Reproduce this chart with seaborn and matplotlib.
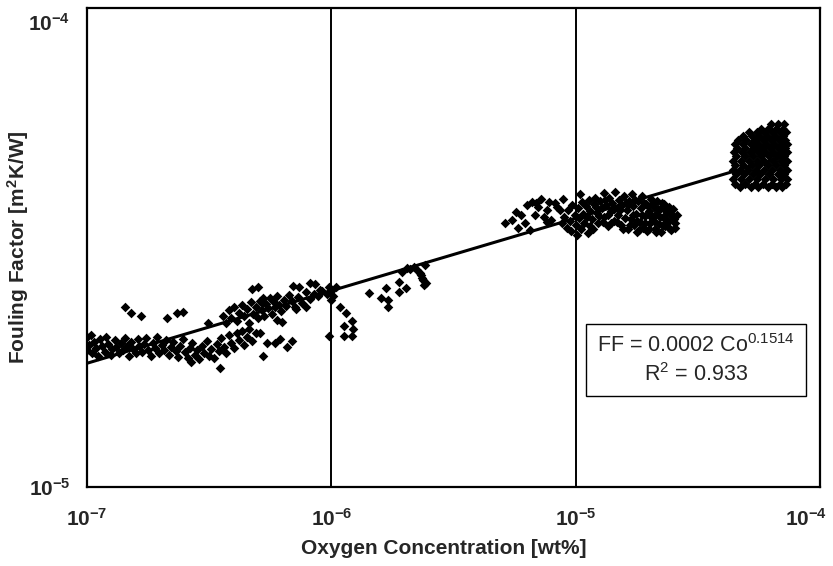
import numpy as np
import pandas as pd
import matplotlib
matplotlib.use("Agg")
import matplotlib.pyplot as plt
import matplotlib.transforms as mtransforms
from matplotlib.ticker import NullLocator
import seaborn as sns

# ---- data: (oxygen conc., fouling factor) ----
# low range: Co in units of 1e-7 wt%, FF in units of 1e-5 m2K/W
low_pts = [
    (1.00, 2.06), (1.00, 1.93), (1.02, 1.98), (1.04, 2.08), (1.05, 1.90), (1.07, 2.01),
    (1.09, 1.95), (1.11, 1.88), (1.13, 2.04), (1.15, 1.97), (1.18, 1.91), (1.20, 2.06),
    (1.22, 1.99), (1.25, 1.89), (1.27, 1.94), (1.30, 2.03), (1.32, 1.96), (1.35, 1.90),
    (1.38, 2.00), (1.40, 1.93), (1.43, 2.05), (1.46, 1.97), (1.49, 1.88), (1.52, 2.01),
    (1.55, 1.94), (1.58, 1.90), (1.61, 2.04), (1.64, 1.97), (1.68, 1.91), (1.71, 1.99),
    (1.75, 2.05), (1.78, 1.93), (1.82, 1.88), (1.86, 2.00), (1.90, 1.95), (1.94, 2.06),
    (1.98, 1.90), (2.02, 1.98), (2.07, 1.93), (2.11, 2.03), (2.16, 1.89), (2.21, 1.96),
    (2.26, 2.01), (2.31, 1.92), (2.36, 1.87), (2.41, 1.97), (2.47, 2.04), (2.52, 1.91),
    (2.58, 1.86), (2.64, 1.95), (2.70, 2.00), (2.76, 1.89), (2.82, 1.93), (2.88, 1.85),
    (2.95, 1.97), (3.02, 1.90), (3.09, 2.02), (3.16, 1.88), (3.23, 1.94), (3.31, 1.86),
    (3.39, 1.99), (3.47, 1.92), (3.55, 2.05), (3.63, 1.96), (3.72, 1.90), (3.81, 2.08),
    (3.90, 2.00), (4.00, 1.95), (4.10, 2.10), (4.20, 2.03), (4.30, 2.12), (4.40, 1.98),
    (4.50, 2.06), (4.62, 2.14), (4.75, 2.02), (4.90, 2.10),
    # stray points
    (1.43, 2.37), (1.51, 2.31), (1.66, 2.27), (2.12, 2.25), (2.33, 2.31), (2.47, 2.32),
    (3.13, 2.20), (2.66, 1.82), (3.50, 1.77), (5.25, 1.88),
    # rising part
    (3.6, 2.28), (3.7, 2.20), (3.8, 2.34), (3.9, 2.25), (4.0, 2.38), (4.1, 2.22),
    (4.2, 2.31), (4.3, 2.40), (4.4, 2.27), (4.5, 2.35), (4.6, 2.20), (4.7, 2.43),
    (4.8, 2.30), (4.9, 2.38), (5.0, 2.25), (5.1, 2.45), (5.2, 2.34), (5.3, 2.28),
    (5.4, 2.41), (5.5, 2.36), (5.6, 2.48), (5.7, 2.30), (5.8, 2.43), (5.9, 2.37),
    (6.0, 2.51), (6.1, 2.40), (6.2, 2.33), (6.4, 2.46), (6.5, 2.39), (6.7, 2.52),
    (6.9, 2.44), (7.1, 2.37), (7.3, 2.49), (7.6, 2.42), (7.9, 2.55), (8.2, 2.47),
    (8.5, 2.53), (8.8, 2.50),
    (4.73, 2.59), (5.0, 2.61), (5.25, 2.48), (5.2, 2.42), (6.97, 2.63), (7.4, 2.61),
    (8.2, 2.66), (8.6, 2.65), (9.0, 2.58),
    (5.1, 2.10), (5.45, 2.00), (5.9, 2.00), (6.15, 2.04), (6.6, 1.96), (6.9, 2.02),
    (6.0, 2.23), (6.3, 2.21), (7.2, 2.35), (7.9, 2.37),
]

# around 1e-6: Co in units of 1e-6, FF in units of 1e-5
mid_pts = [
    (0.92, 2.57), (0.96, 2.53), (1.00, 2.57), (1.05, 2.61), (0.98, 2.62), (1.02, 2.50),
    (1.00, 2.46), (1.09, 2.37), (1.15, 2.31), (1.21, 2.22), (1.13, 2.17), (1.23, 2.14),
    (1.13, 2.07), (1.21, 2.07), (0.98, 2.07),
    (1.42, 2.54), (1.59, 2.48), (1.67, 2.60), (1.70, 2.46), (1.71, 2.38), (1.89, 2.68),
    (1.90, 2.55), (2.03, 2.60), (1.95, 2.81), (2.05, 2.86), (2.19, 2.88), (2.30, 2.80),
    (2.36, 2.73), (2.43, 2.67), (2.41, 2.90),
    (2.10, 2.85), (2.25, 2.84), (2.33, 2.77), (2.38, 2.70), (2.40, 2.64),
]

# around 1e-5: Co in units of 1e-5, FF in units of 1e-5
ten_pts = [
    (0.513, 3.56), (0.55, 3.61), (0.58, 3.47), (0.60, 3.70), (0.65, 3.44), (0.63, 3.88),
    (0.66, 3.94), (0.69, 3.92), (0.72, 4.00), (0.76, 3.79), (0.78, 3.94), (0.82, 3.92),
    (0.86, 3.79), (0.89, 4.00), (0.79, 3.61), (0.68, 3.70), (0.76, 3.58), (0.70, 3.85),
    (0.74, 3.66), (0.84, 3.85), (0.62, 3.55), (0.57, 3.75),
    (0.88, 3.55), (0.90, 3.66), (0.92, 3.48), (0.93, 3.78), (0.95, 3.60), (0.96, 3.42),
    (0.97, 3.88), (0.99, 3.70), (1.00, 3.52), (1.01, 3.36), (1.02, 3.82), (1.03, 3.64),
    (1.04, 4.08), (1.05, 3.45), (1.06, 3.94), (1.07, 3.72), (1.08, 3.56), (1.10, 3.86),
    (1.11, 3.66), (1.12, 3.39), (1.13, 3.98), (1.14, 3.77), (1.15, 3.50),
    (1.17, 3.62), (1.19, 3.90), (1.20, 4.02), (1.22, 3.74), (1.24, 3.55), (1.26, 3.95),
    (1.28, 3.82), (1.30, 4.10), (1.31, 3.66), (1.33, 3.88), (1.35, 3.50), (1.37, 4.02),
    (1.39, 3.76), (1.41, 3.92), (1.43, 3.60), (1.45, 4.12), (1.47, 3.83), (1.49, 3.70),
    (1.51, 3.98), (1.53, 3.52), (1.55, 3.88), (1.57, 4.05), (1.59, 3.64),
    (1.18, 3.46), (1.21, 3.84), (1.25, 3.68), (1.29, 3.58), (1.32, 3.98), (1.36, 3.70),
    (1.40, 3.56), (1.44, 3.80), (1.48, 3.58), (1.52, 3.78), (1.56, 3.46), (1.60, 3.92),
    (1.62, 3.78), (1.64, 3.45), (1.66, 3.96), (1.68, 3.62), (1.70, 4.08), (1.72, 3.86),
    (1.74, 3.52), (1.76, 3.72), (1.78, 3.40), (1.80, 3.95), (1.83, 3.58), (1.85, 3.82),
    (1.87, 4.05), (1.89, 3.48), (1.92, 3.68), (1.94, 3.90), (1.96, 3.42), (1.99, 3.76),
    (2.01, 3.56), (2.04, 4.00), (2.06, 3.64), (2.09, 3.84), (2.11, 3.46), (2.14, 3.72),
    (2.16, 3.95), (2.19, 3.54), (2.22, 3.80), (2.24, 3.40), (2.27, 3.66), (2.30, 3.90),
    (2.33, 3.50), (2.36, 3.75), (2.39, 3.58), (2.42, 3.85), (2.45, 3.44), (2.48, 3.68),
    (2.52, 3.62), (2.56, 3.55), (2.59, 3.70),
    (1.63, 3.88), (1.67, 3.52), (1.71, 3.70), (1.75, 3.98), (1.79, 3.60), (1.82, 3.44),
    (1.86, 3.70), (1.90, 3.92), (1.93, 3.56), (1.97, 3.86), (2.00, 3.45), (2.03, 3.70),
    (2.07, 3.92), (2.10, 3.60), (2.13, 3.40), (2.17, 3.80), (2.21, 3.66), (2.25, 3.92),
    (2.28, 3.52), (2.32, 3.78), (2.35, 3.62), (2.40, 3.48), (2.44, 3.74), (2.50, 3.80),
    (2.54, 3.48),
]

# high range: Co in units of 1e-5, FF in units of 1e-5
high_pts = [
    (4.70, 4.22), (5.20, 4.22), (5.60, 4.22), (6.10, 4.22), (6.60, 4.22), (7.00, 4.22),
    (4.50, 4.30), (4.95, 4.30), (5.40, 4.30), (5.85, 4.30), (6.35, 4.30), (6.85, 4.30), (7.25, 4.30),
    (4.42, 4.40), (4.75, 4.40), (5.10, 4.40), (5.50, 4.40), (5.95, 4.40), (6.45, 4.40), (6.95, 4.40), (7.30, 4.40),
    (4.55, 4.50), (4.90, 4.50), (5.30, 4.50), (5.70, 4.50), (6.20, 4.50), (6.70, 4.50), (7.15, 4.50),
    (4.40, 4.60), (4.72, 4.60), (5.08, 4.60), (5.45, 4.60), (5.88, 4.60), (6.35, 4.60), (6.85, 4.60), (7.30, 4.60),
    (4.50, 4.70), (4.85, 4.70), (5.25, 4.70), (5.65, 4.70), (6.10, 4.70), (6.60, 4.70), (7.10, 4.70),
    (4.42, 4.80), (4.75, 4.80), (5.10, 4.80), (5.50, 4.80), (5.92, 4.80), (6.40, 4.80), (6.90, 4.80), (7.30, 4.80),
    (4.55, 4.90), (4.92, 4.90), (5.30, 4.90), (5.72, 4.90), (6.18, 4.90), (6.68, 4.90), (7.15, 4.90),
    (4.45, 5.00), (4.78, 5.00), (5.15, 5.00), (5.55, 5.00), (5.98, 5.00), (6.45, 5.00), (6.95, 5.00), (7.32, 5.00),
    (4.58, 5.10), (4.95, 5.10), (5.35, 5.10), (5.78, 5.10), (6.22, 5.10), (6.72, 5.10), (7.18, 5.10),
    (4.48, 5.20), (4.82, 5.20), (5.20, 5.20), (5.60, 5.20), (6.02, 5.20), (6.50, 5.20), (7.00, 5.20), (7.30, 5.20),
    (4.62, 5.30), (5.00, 5.30), (5.40, 5.30), (5.82, 5.30), (6.28, 5.30), (6.78, 5.30), (7.20, 5.30),
    (4.85, 5.40), (5.25, 5.40), (5.65, 5.40), (6.08, 5.40), (6.55, 5.40), (7.05, 5.40),
    (5.10, 5.50), (5.50, 5.50), (5.92, 5.50), (6.35, 5.50), (6.85, 5.50), (7.25, 5.50),
    (5.75, 5.60), (6.15, 5.60), (6.60, 5.60), (7.05, 5.60),
    (6.30, 5.72), (6.75, 5.72), (7.15, 5.72),
]

# power-law trend line printed on the chart
fit_coef = 2.08e-4
fit_exp = 0.1514
fit_text = "FF = 0.0002 Co$^{0.1514}$\nR$^2$ = 0.933"

x_ticks = [1e-7, 1e-6, 1e-5, 1e-4]
x_labels = [r"$\mathbf{10^{-7}}$", r"$\mathbf{10^{-6}}$", r"$\mathbf{10^{-5}}$", r"$\mathbf{10^{-4}}$"]
y_ticks = [1e-5, 1e-4]
y_labels = [r"$\mathbf{10^{-5}}$", r"$\mathbf{10^{-4}}$"]


def to_frame(pts, co_unit, ff_unit):
    arr = np.array(pts)
    return pd.DataFrame({"co": arr[:, 0] * co_unit, "ff": arr[:, 1] * ff_unit})


df = pd.concat([
    to_frame(low_pts, 1e-7, 1e-5),
    to_frame(mid_pts, 1e-6, 1e-5),
    to_frame(ten_pts, 1e-5, 1e-5),
    to_frame(high_pts, 1e-5, 1e-5),
], ignore_index=True)

sns.set_style("white")
plt.rcParams["font.family"] = ["Liberation Sans", "DejaVu Sans"]
plt.rcParams["mathtext.fontset"] = "custom"
plt.rcParams["mathtext.rm"] = "Liberation Sans"
plt.rcParams["mathtext.it"] = "Liberation Sans:italic"
plt.rcParams["mathtext.bf"] = "Liberation Sans:bold"

fig = plt.figure(figsize=(8.33, 5.66), dpi=100)
ax = fig.add_axes([0.1044, 0.1396, 0.8800, 0.8463])

sns.scatterplot(data=df, x="co", y="ff", marker="D", s=24, color="black",
                linewidth=0, ax=ax, zorder=3)

# trend line over the data range
line_x = np.array([df["co"].min(), df["co"].max()])
line_df = pd.DataFrame({"co": line_x, "ff": fit_coef * line_x ** fit_exp})
sns.lineplot(data=line_df, x="co", y="ff", color="black", linewidth=2.2, ax=ax, zorder=4)

ax.set_xscale("log")
ax.set_yscale("log")
ax.set_xlim(1e-7, 1e-4)
ax.set_ylim(1e-5, 1e-4)
ax.set_xticks(x_ticks, labels=x_labels)
ax.set_yticks(y_ticks, labels=y_labels)
ax.xaxis.set_minor_locator(NullLocator())
ax.yaxis.set_minor_locator(NullLocator())
ax.tick_params(axis="both", length=0, labelsize=15)
ax.tick_params(axis="x", pad=15)
ax.tick_params(axis="y", pad=12)

# keep the last x label inside the figure, as in the original
last = ax.get_xticklabels()[-1]
last.set_horizontalalignment("right")
last.set_transform(last.get_transform() + mtransforms.ScaledTranslation(7 / 100, 0, fig.dpi_scale_trans))
# top y label sits a little lower than its tick
top = ax.get_yticklabels()[-1]
top.set_transform(top.get_transform() + mtransforms.ScaledTranslation(0, -10 / 72, fig.dpi_scale_trans))

ax.grid(axis="x", color="black", linewidth=1.4)
ax.grid(axis="y", visible=False)
ax.set_axisbelow(True)
for sp in ax.spines.values():
    sp.set_color("black")
    sp.set_linewidth(1.6)

ax.set_xlabel("Oxygen Concentration [wt%]", fontsize=15, fontweight="bold")
ax.xaxis.set_label_coords(0.487, -0.108)
ax.set_ylabel("Fouling Factor [m$^\\mathbf{2}$K/W]", fontsize=15, fontweight="bold")
ax.yaxis.set_label_coords(-0.076, 0.5)

ax.text(0.831, 0.265, fit_text, transform=ax.transAxes, ha="center", va="center",
        fontsize=15.5, linespacing=1.3, zorder=5,
        bbox=dict(boxstyle="square,pad=0.5", facecolor="white", edgecolor="black", linewidth=1))

fig.savefig("out.png", dpi=100)
